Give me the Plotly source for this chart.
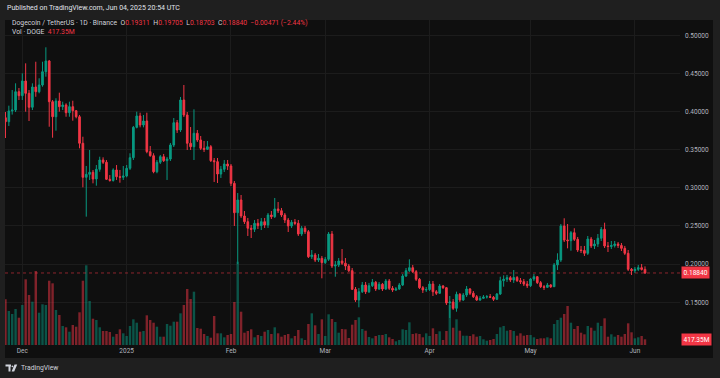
import plotly.graph_objects as go
import pandas as pd

# ---------------- data ----------------
dates = pd.date_range("2024-11-26", "2025-06-04", freq="D")

open_ = [
0.3919, 0.3867, 0.4007, 0.4020, 0.4260, 0.4208, 0.4400, 0.4239, 0.4056, 0.4322,
0.4260, 0.4348, 0.4522, 0.4663, 0.4129, 0.3932, 0.4138, 0.4064, 0.4086, 0.3985,
0.4064, 0.4011, 0.3932, 0.3584, 0.3138, 0.3177, 0.3204, 0.3116, 0.3243, 0.3365,
0.3335, 0.3112, 0.3096, 0.3234, 0.3146, 0.3138, 0.3155, 0.3256, 0.3395, 0.3793,
0.3942, 0.3824, 0.3876, 0.3474, 0.3421, 0.3211, 0.3335, 0.3408, 0.3356, 0.3378,
0.3561, 0.3854, 0.3758, 0.4151, 0.3955, 0.3584, 0.3539, 0.3715, 0.3627, 0.3518,
0.3505, 0.3539, 0.3356, 0.3343, 0.3181, 0.3243, 0.3312, 0.3286, 0.3059, 0.2674,
0.2841, 0.2631, 0.2556, 0.2470, 0.2456, 0.2535, 0.2504, 0.2556, 0.2513, 0.2644,
0.2622, 0.2723, 0.2700, 0.2644, 0.2578, 0.2500, 0.2548, 0.2535, 0.2395, 0.2470,
0.2425, 0.2097, 0.2120, 0.2054, 0.2076, 0.2019, 0.2063, 0.2395, 0.1975, 0.1989,
0.2041, 0.2011, 0.1975, 0.1914, 0.1670, 0.1530, 0.1638, 0.1726, 0.1638, 0.1717,
0.1762, 0.1674, 0.1736, 0.1674, 0.1779, 0.1683, 0.1661, 0.1674, 0.1726, 0.1844,
0.1914, 0.1953, 0.1901, 0.1801, 0.1691, 0.1661, 0.1667, 0.1739, 0.1638, 0.1618,
0.1713, 0.1691, 0.1490, 0.1504, 0.1421, 0.1604, 0.1530, 0.1595, 0.1674, 0.1618,
0.1573, 0.1530, 0.1552, 0.1569, 0.1573, 0.1565, 0.1539, 0.1608, 0.1783, 0.1801,
0.1822, 0.1792, 0.1825, 0.1783, 0.1770, 0.1739, 0.1717, 0.1805, 0.1835, 0.1757,
0.1704, 0.1696, 0.1726, 0.1704, 0.1989, 0.2054, 0.2500, 0.2316, 0.2307, 0.2412,
0.2325, 0.2185, 0.2178, 0.2142, 0.2329, 0.2238, 0.2264, 0.2339, 0.2456, 0.2238,
0.2231, 0.2244, 0.2264, 0.2244, 0.2207, 0.2142, 0.1932, 0.1914, 0.1932, 0.1953,
0.19311]

high = [
0.3994, 0.4077, 0.4282, 0.4370, 0.4309, 0.4501, 0.4632, 0.4282, 0.4370, 0.4653,
0.4436, 0.4653, 0.4842, 0.4676, 0.4151, 0.4174, 0.4247, 0.4129, 0.4108, 0.4129,
0.4142, 0.4020, 0.3955, 0.3670, 0.3286, 0.3496, 0.3234, 0.3299, 0.3408, 0.3400,
0.3365, 0.3168, 0.3256, 0.3299, 0.3234, 0.3286, 0.3299, 0.3453, 0.3811, 0.3998,
0.3985, 0.3955, 0.3985, 0.3548, 0.3453, 0.3365, 0.3430, 0.3444, 0.3404, 0.3588,
0.3915, 0.3889, 0.4191, 0.4348, 0.3994, 0.3797, 0.4029, 0.3758, 0.3679, 0.3614,
0.3614, 0.3561, 0.3391, 0.3391, 0.3286, 0.3365, 0.3365, 0.3312, 0.3090, 0.2932,
0.2906, 0.2696, 0.2605, 0.2513, 0.2578, 0.2591, 0.2605, 0.2605, 0.2670, 0.2696,
0.2867, 0.2814, 0.2736, 0.2670, 0.2605, 0.2578, 0.2591, 0.2578, 0.2500, 0.2500,
0.2447, 0.2185, 0.2146, 0.2133, 0.2107, 0.2093, 0.2421, 0.2434, 0.2041, 0.2080,
0.2198, 0.2080, 0.2002, 0.1949, 0.1700, 0.1687, 0.1766, 0.1766, 0.1753, 0.1805,
0.1779, 0.1766, 0.1753, 0.1805, 0.1805, 0.1713, 0.1700, 0.1753, 0.1871, 0.1949,
0.2063, 0.1989, 0.1923, 0.1818, 0.1713, 0.1700, 0.1779, 0.1779, 0.1661, 0.1739,
0.1726, 0.1700, 0.1582, 0.1543, 0.1639, 0.1621, 0.1621, 0.1713, 0.1687, 0.1648,
0.1595, 0.1582, 0.1595, 0.1595, 0.1608, 0.1582, 0.1621, 0.1835, 0.1853, 0.1858,
0.1844, 0.1923, 0.1844, 0.1818, 0.1805, 0.1779, 0.1818, 0.1871, 0.1844, 0.1779,
0.1726, 0.1753, 0.1739, 0.2015, 0.2142, 0.2526, 0.2601, 0.2526, 0.2434, 0.2470,
0.2356, 0.2238, 0.2238, 0.2369, 0.2356, 0.2316, 0.2395, 0.2487, 0.2543, 0.2290,
0.2303, 0.2303, 0.2290, 0.2277, 0.2238, 0.2185, 0.1949, 0.1962, 0.1989, 0.2002,
0.19705]

low = [
0.3653, 0.3811, 0.3960, 0.3994, 0.4151, 0.4151, 0.3998, 0.3876, 0.4020, 0.4194,
0.4239, 0.4326, 0.4457, 0.3801, 0.3657, 0.3749, 0.3998, 0.4020, 0.3932, 0.3932,
0.3880, 0.3911, 0.3518, 0.3007, 0.2622, 0.3103, 0.3059, 0.3028, 0.3211, 0.3312,
0.3103, 0.3081, 0.3081, 0.3103, 0.3067, 0.3103, 0.3138, 0.3234, 0.3365, 0.3780,
0.3793, 0.3793, 0.3453, 0.3408, 0.3191, 0.3191, 0.3312, 0.3339, 0.3103, 0.3352,
0.3535, 0.3719, 0.3732, 0.3928, 0.3496, 0.3496, 0.3365, 0.3601, 0.3496, 0.3470,
0.3496, 0.3339, 0.3077, 0.3063, 0.3129, 0.3207, 0.3234, 0.3024, 0.2500, 0.2002,
0.2605, 0.2526, 0.2369, 0.2342, 0.2421, 0.2460, 0.2447, 0.2474, 0.2474, 0.2591,
0.2605, 0.2670, 0.2618, 0.2539, 0.2421, 0.2474, 0.2513, 0.2369, 0.2369, 0.2395,
0.2080, 0.2067, 0.2028, 0.2028, 0.1814, 0.2002, 0.2041, 0.1949, 0.1835, 0.1962,
0.1989, 0.1923, 0.1897, 0.1661, 0.1504, 0.1434, 0.1621, 0.1608, 0.1621, 0.1700,
0.1648, 0.1661, 0.1648, 0.1661, 0.1661, 0.1635, 0.1648, 0.1661, 0.1713, 0.1831,
0.1897, 0.1884, 0.1779, 0.1674, 0.1621, 0.1635, 0.1648, 0.1582, 0.1595, 0.1608,
0.1674, 0.1464, 0.1294, 0.1399, 0.1376, 0.1504, 0.1517, 0.1569, 0.1595, 0.1556,
0.1517, 0.1517, 0.1543, 0.1549, 0.1556, 0.1517, 0.1530, 0.1595, 0.1704, 0.1766,
0.1766, 0.1753, 0.1766, 0.1739, 0.1713, 0.1687, 0.1700, 0.1779, 0.1739, 0.1687,
0.1661, 0.1687, 0.1687, 0.1700, 0.1923, 0.2028, 0.2290, 0.2207, 0.2176, 0.2303,
0.2159, 0.2146, 0.2107, 0.2120, 0.2211, 0.2198, 0.2224, 0.2303, 0.2211, 0.2159,
0.2198, 0.2218, 0.2211, 0.2172, 0.2120, 0.1910, 0.1857, 0.1884, 0.1910, 0.1916,
0.18703]

close = [
0.3867, 0.4007, 0.4020, 0.4260, 0.4208, 0.4400, 0.4239, 0.4056, 0.4322, 0.4260,
0.4348, 0.4522, 0.4663, 0.4129, 0.3932, 0.4138, 0.4064, 0.4086, 0.3985, 0.4064,
0.4011, 0.3932, 0.3584, 0.3138, 0.3177, 0.3204, 0.3116, 0.3243, 0.3365, 0.3335,
0.3112, 0.3096, 0.3234, 0.3146, 0.3138, 0.3155, 0.3256, 0.3395, 0.3793, 0.3942,
0.3824, 0.3876, 0.3474, 0.3421, 0.3211, 0.3335, 0.3408, 0.3356, 0.3378, 0.3561,
0.3854, 0.3758, 0.4151, 0.3955, 0.3584, 0.3539, 0.3715, 0.3627, 0.3518, 0.3505,
0.3539, 0.3356, 0.3343, 0.3181, 0.3243, 0.3312, 0.3286, 0.3059, 0.2674, 0.2841,
0.2631, 0.2556, 0.2470, 0.2456, 0.2535, 0.2504, 0.2556, 0.2513, 0.2644, 0.2622,
0.2723, 0.2700, 0.2644, 0.2578, 0.2500, 0.2548, 0.2535, 0.2395, 0.2470, 0.2425,
0.2097, 0.2120, 0.2054, 0.2076, 0.2019, 0.2063, 0.2395, 0.1975, 0.1989, 0.2041,
0.2011, 0.1975, 0.1914, 0.1670, 0.1530, 0.1638, 0.1726, 0.1638, 0.1717, 0.1762,
0.1674, 0.1736, 0.1674, 0.1779, 0.1683, 0.1661, 0.1674, 0.1726, 0.1844, 0.1914,
0.1953, 0.1901, 0.1801, 0.1691, 0.1661, 0.1667, 0.1739, 0.1638, 0.1618, 0.1713,
0.1691, 0.1490, 0.1504, 0.1421, 0.1604, 0.1530, 0.1595, 0.1674, 0.1618, 0.1573,
0.1530, 0.1552, 0.1569, 0.1573, 0.1565, 0.1539, 0.1608, 0.1783, 0.1801, 0.1822,
0.1792, 0.1825, 0.1783, 0.1770, 0.1739, 0.1717, 0.1805, 0.1835, 0.1757, 0.1704,
0.1696, 0.1726, 0.1704, 0.1989, 0.2054, 0.2500, 0.2316, 0.2307, 0.2412, 0.2325,
0.2185, 0.2178, 0.2142, 0.2329, 0.2238, 0.2264, 0.2339, 0.2456, 0.2238, 0.2231,
0.2244, 0.2264, 0.2244, 0.2207, 0.2142, 0.1932, 0.1914, 0.1932, 0.1953, 0.19311,
0.18840]

# volume, millions of DOGE
volume_m = [
3345, 2489, 2269, 2635, 1998, 2928, 4809, 3660, 3170, 5417,
2364, 2979, 2928, 4707, 4516, 2562, 2196, 1391, 1296, 974,
1464, 1340, 2394, 4707, 5834, 3221, 1925, 1830, 1296, 1025,
1025, 952, 608, 805, 1149, 856, 659, 1391, 1881, 1632,
974, 1025, 2174, 1830, 1632, 1340, 608, 608, 1537, 1413,
1706, 1706, 2320, 2928, 4099, 3367, 3902, 1244, 1193, 805,
659, 534, 2123, 856, 856, 564, 732, 805, 3148, 6098,
2438, 900, 1025, 1149, 564, 732, 659, 974, 1098, 805,
1296, 856, 608, 732, 805, 490, 659, 1098, 490, 366,
1537, 2320, 1442, 805, 1881, 659, 2247, 1903, 1684, 900,
1171, 1149, 512, 1486, 1830, 2028, 1171, 1047, 586, 490,
659, 732, 732, 805, 564, 439, 271, 366, 1149, 1098,
1662, 805, 856, 805, 564, 856, 659, 1222, 805, 1003,
366, 1025, 2928, 1266, 1881, 1047, 681, 681, 659, 783,
608, 659, 417, 315, 366, 439, 805, 1296, 1391, 1047,
1098, 1025, 681, 856, 681, 732, 732, 564, 439, 490,
490, 564, 490, 1537, 1830, 1998, 2269, 2855, 1632, 1171,
1391, 900, 783, 1391, 1266, 1047, 1632, 1391, 1954, 608,
783, 608, 732, 608, 805, 1588, 930, 490, 564, 659,
417.35]

month_ticks = ["2024-12-01", "2025-01-01", "2025-02-01", "2025-03-01",
               "2025-04-01", "2025-05-01", "2025-06-01"]
month_labels = ["Dec", "2025", "Feb", "Mar", "Apr", "May", "Jun"]
price_ticks = [0.15, 0.20, 0.25, 0.30, 0.35, 0.40, 0.45, 0.50]

# ---------------- style ----------------
UP = "#089981"
DOWN = "#f23645"
UP_VOL = "rgba(8,153,129,0.5)"
DOWN_VOL = "rgba(242,54,69,0.5)"
FRAME = "#1f1f1f"
PANEL = "#0f0f0f"
GRID = "#1c1c1c"
TXT = "#d1d4dc"
AX = "#b2b5be"
FONT = "Roboto"

W, H = 720, 378
L, R, T, B = 5, 40, 20, 33
PW, PH = W - L - R, H - T - B


def px(x):
    return (x - L) / PW


def py(y):
    return (H - B - y) / PH


vol_colors = [UP_VOL if c >= o else DOWN_VOL for o, c in zip(open_, close)]

fig = go.Figure()
fig.add_trace(go.Bar(x=dates, y=volume_m, marker=dict(color=vol_colors, line=dict(width=0)),
                     yaxis="y", hoverinfo="skip", showlegend=False))
fig.add_trace(go.Candlestick(
    x=dates, open=open_, high=high, low=low, close=close, yaxis="y2",
    increasing=dict(line=dict(color=UP, width=1), fillcolor=UP),
    decreasing=dict(line=dict(color=DOWN, width=1), fillcolor=DOWN),
    whiskerwidth=0, showlegend=False))

last_c, prev_c = close[-1], close[-2]
chg = last_c - prev_c
pct = chg / prev_c * 100
red = lambda s: f"<span style='color:{DOWN}'>{s}</span>"
nb = "\u00a0"
hdr = (f"Dogecoin / TetherUS · 1D · Binance{nb}{nb}O{red(f'{open_[-1]:.5f}')}{nb}{nb}"
       f"H{red(f'{high[-1]:.5f}')}{nb}{nb}L{red(f'{low[-1]:.5f}')}{nb}{nb}"
       f"C{red(f'{last_c:.5f}')}{nb}{nb}{red(f'{chg:.5f} ({pct:.2f}%)'.replace('-', '−'))}")
vol_hdr = f"Vol · DOGE{nb}{nb}{red(f'{volume_m[-1]:.2f}M')}"

shapes = [
    dict(type="rect", xref="paper", yref="paper", x0=px(5), x1=px(713), y0=py(358), y1=py(20),
         fillcolor=PANEL, line=dict(width=0), layer="below"),
    dict(type="line", xref="paper", yref="y2", x0=0, x1=1, y0=last_c, y1=last_c,
         line=dict(color="rgba(242,54,69,0.55)", width=1, dash="dot")),
    # TradingView logo
    dict(type="rect", xref="paper", yref="paper", x0=px(5.5), x1=px(11), y0=py(366.5), y1=py(364.5),
         fillcolor="#d1d4dc", line=dict(width=0)),
    dict(type="rect", xref="paper", yref="paper", x0=px(8.5), x1=px(10.5), y0=py(371.5), y1=py(366),
         fillcolor="#d1d4dc", line=dict(width=0)),
    dict(type="circle", xref="paper", yref="paper", x0=px(11.5), x1=px(13.3), y0=py(367.2), y1=py(365.4),
         fillcolor="#d1d4dc", line=dict(width=0)),
    dict(type="path", xref="paper", yref="paper",
         path=f"M {px(14.5)} {py(364.5)} L {px(17.2)} {py(364.5)} L {px(14.2)} {py(371.5)} L {px(11.6)} {py(371.5)} Z",
         fillcolor="#d1d4dc", line=dict(width=0)),
]

annotations = [
    dict(text="Published on TradingView.com, Jun 04, 2025 20:54 UTC", xref="paper", yref="paper",
         x=px(5), y=py(8), xanchor="left", yanchor="middle", showarrow=False,
         font=dict(family=FONT, size=7, color="#e0e3eb")),
    dict(text=hdr, xref="paper", yref="paper", x=px(10), y=py(23.5), xanchor="left", yanchor="middle",
         showarrow=False, font=dict(family=FONT, size=6.8, color=TXT)),
    dict(text=vol_hdr, xref="paper", yref="paper", x=px(10), y=py(32.5), xanchor="left", yanchor="middle",
         showarrow=False, font=dict(family=FONT, size=6.8, color=TXT)),
    dict(text=f"{last_c:.5f}", xref="paper", yref="y2", x=px(681), y=last_c, xanchor="left",
         yanchor="middle", showarrow=False, bgcolor=DOWN, borderpad=1.5,
         font=dict(family=FONT, size=6.6, color="#ffffff")),
    dict(text=f"{volume_m[-1]:.2f}M", xref="paper", yref="y", x=px(681), y=volume_m[-1], xanchor="left",
         yanchor="middle", showarrow=False, bgcolor=DOWN, borderpad=1.5,
         font=dict(family=FONT, size=6.6, color="#ffffff")),
    dict(text="TradingView", xref="paper", yref="paper", x=px(18.5), y=py(368), xanchor="left",
         yanchor="middle", showarrow=False, font=dict(family=FONT, size=6.8, color="#d1d4dc")),
]

fig.update_layout(
    width=W, height=H, margin=dict(l=L, r=R, t=T, b=B, pad=0),
    paper_bgcolor=FRAME, plot_bgcolor=PANEL,
    showlegend=False, bargap=0.28,
    font=dict(family=FONT, color=AX, size=6.5),
    xaxis=dict(type="date", range=["2024-11-25 20:38", "2025-06-14 09:36"],
               tickvals=month_ticks, ticktext=month_labels, showgrid=True, gridcolor=GRID,
               gridwidth=1, zeroline=False, showline=False, ticks="", rangeslider=dict(visible=False),
               tickfont=dict(family=FONT, size=6.5, color=AX), fixedrange=True),
    yaxis=dict(range=[0, 23790], visible=False, showgrid=False, zeroline=False, fixedrange=True),
    yaxis2=dict(range=[0.09398, 0.52], overlaying="y", side="right", anchor="x",
                tickvals=price_ticks, tickformat=".5f", showgrid=True, gridcolor=GRID,
                zeroline=False, showline=False, ticks="", ticklabelstandoff=4,
                tickfont=dict(family=FONT, size=6.5, color=AX), fixedrange=True),
    shapes=shapes, annotations=annotations,
)

fig.write_html("out.html", config={"displayModeBar": False, "staticPlot": True})

# remove the browser's default page margin so the 720x378 figure fills the window exactly
with open("out.html", "r", encoding="utf-8") as f:
    page = f.read()
page = page.replace("<head>", "<head><style>html,body{margin:0;padding:0;overflow:hidden;background:#1f1f1f}</style>", 1)
with open("out.html", "w", encoding="utf-8") as f:
    f.write(page)
